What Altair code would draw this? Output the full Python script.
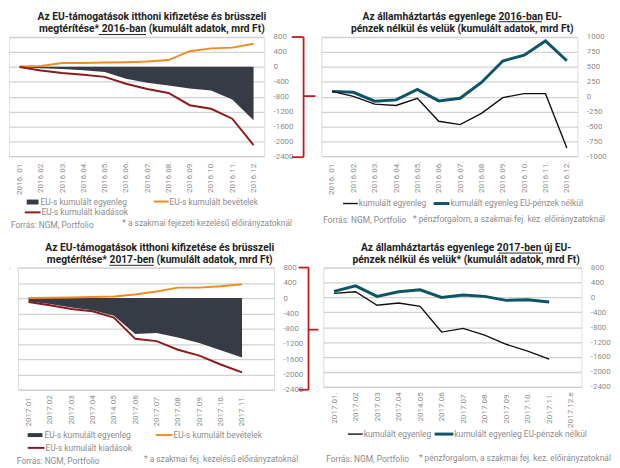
import altair as alt
import pandas as pd

FONT = "Roboto"
GRAY = "#8c8c8c"
GRID = "#d2d2d2"
C_AREA = "#363b46"
C_ORANGE = "#f08a24"
C_RED = "#8e1b1b"
C_TEAL = "#0d5566"
C_BLACK = "#111111"
C_BRACE = "#c4161c"
C_TITLE = "#222222"

# ---------------- data ----------------
months_2016 = ["2016. 01.", "2016.02.", "2016.03.", "2016.04.", "2016.05.", "2016.06.",
               "2016.07.", "2016.08.", "2016.09.", "2016.10.", "2016.11.", "2016.12."]
eu16_balance = [-15, -40, -57, -93, -137, -323, -429, -500, -580, -633, -880, -1437]
eu16_income = [10, 20, 100, 105, 115, 125, 145, 180, 420, 495, 515, 620]
eu16_spend = [-5, -100, -165, -215, -270, -455, -597, -703, -1030, -1127, -1393, -2100]

gov16_balance = [88, 5, -127, -149, -28, -414, -470, -282, -17, 50, 50, -862]
gov16_no_eu = [88, 72, -77, -55, 122, -72, -28, 238, 597, 696, 934, 602]

months_2017 = ["2017.01.", "2017.02", "2017.03", "2017.04", "2014.05", "2017.06",
               "2017.07.", "2017.08.", "2017.09.", "2017.10.", "2017.11."]
months_2017_axis3 = months_2017 + [" "]
months_2017_axis4 = months_2017 + ["2017.12.e"]
eu17_balance = [-86, -155, -249, -318, -465, -938, -912, -1032, -1178, -1368, -1557]
eu17_income = [5, 10, 15, 30, 40, 95, 172, 275, 275, 310, 361]
eu17_spend = [-103, -189, -284, -344, -508, -1067, -1127, -1351, -1505, -1738, -1944]

gov17_balance = [106, 151, -213, -151, -239, -931, -833, -1011, -1259, -1445, -1658]
gov17_no_eu = [160, 310, 27, 151, 204, 0, 62, 27, -80, -62, -124]

ticks_eu = [800, 400, 0, -400, -800, -1200, -1600, -2000, -2400]
ticks_gov16 = [1000, 750, 500, 250, 0, -250, -500, -750, -1000]

ONE = alt.Data(values=[{"a": 1}])


def frame(months, series):
    rows = []
    for name, vals in series.items():
        for i, (m, v) in enumerate(zip(months, vals)):
            rows.append({"m": m, "i": i, "s": name, "v": v})
    return pd.DataFrame(rows)


def xenc(domain):
    return alt.X("m:N", sort=domain, scale=alt.Scale(type="point", domain=domain, padding=0.5),
                 axis=alt.Axis(title=None, labelAngle=-90, ticks=False, domain=False, grid=False,
                               labelColor=GRAY, labelFontSize=8.2, labelPadding=5, labelFont=FONT))


def yenc(dom, ticks):
    return alt.Y("v:Q", scale=alt.Scale(domain=dom, nice=False, zero=False),
                 axis=alt.Axis(title=None, orient="right", values=ticks, ticks=False, domain=False,
                               grid=True, gridColor=GRID, gridWidth=1.3, labelColor=GRAY,
                               labelFontSize=8, labelPadding=9, labelFont=FONT,
                               labelExpr="datum.value"))


def txt(s, x, y, size=8.5, color=GRAY, weight="normal", align="left", baseline="middle"):
    return alt.Chart(ONE).mark_text(align=align, baseline=baseline, fontSize=size, color=color,
                                    font=FONT, fontWeight=weight).encode(
        x=alt.value(x), y=alt.value(y), text=alt.value(s))


def ttl(s, x, y):
    return txt(s, x, y, size=10.4, color=C_TITLE, weight="bold", align="center", baseline="alphabetic")


def seg(x1, x2, y1, y2, color, w):
    return alt.Chart(ONE).mark_rule(color=color, strokeWidth=w).encode(
        x=alt.value(x1), x2=alt.value(x2), y=alt.value(y1), y2=alt.value(y2))


def box(x1, x2, y1, y2, color):
    return alt.Chart(ONE).mark_rect(color=color).encode(
        x=alt.value(x1), x2=alt.value(x2), y=alt.value(y1), y2=alt.value(y2))


def eu_panel(months, domain, bal, inc, spend, w, h, deco):
    area_df = frame(months, {"bal": bal})
    line_df = frame(months, {"Bevételek": inc, "Kiadások": spend})
    area = alt.Chart(area_df).mark_area(color=C_AREA, opacity=1).encode(
        x=xenc(domain), y=yenc([-2400, 800], ticks_eu))
    lns = alt.Chart(line_df).mark_line(strokeWidth=2).encode(
        x=xenc(domain), y=yenc([-2400, 800], ticks_eu),
        color=alt.Color("s:N", scale=alt.Scale(domain=["Bevételek", "Kiadások"], range=[C_ORANGE, C_RED]),
                        legend=None),
        order="i:Q")
    return alt.layer(area, lns, *deco).properties(width=w, height=h)


def gov_panel(months, domain, bal, noeu, ydom, ticks, w, h, deco):
    df = frame(months, {"egy": bal, "noeu": noeu})
    base = alt.Chart(df).encode(x=xenc(domain), y=yenc(ydom, ticks), order="i:Q")
    l1 = base.transform_filter(alt.datum.s == "egy").mark_line(color=C_BLACK, strokeWidth=1.4)
    l2 = base.transform_filter(alt.datum.s == "noeu").mark_line(color=C_TEAL, strokeWidth=3)
    return alt.layer(l2, l1, *deco).properties(width=w, height=h)


# ---------------- panels ----------------
p1 = eu_panel(
    months_2016, months_2016, eu16_balance, eu16_income, eu16_spend, 259, 121,
    [ttl("Az EU-támogatások itthoni kifizetése és brüsszeli", 145, -17.5),
     ttl("megtérítése* 2016-ban (kumulált adatok, mrd Ft)", 145, -5),
     seg(91, 139, -2.5, -2.5, C_TITLE, 1),
     box(18, 30, 165, 170, C_AREA), txt("EU-s kumulált egyenleg", 32, 167),
     seg(147, 162, 167, 167, C_ORANGE, 2), txt("EU-s kumulált bevételek", 163, 167),
     seg(16, 32, 178, 178, C_RED, 2), txt("EU-s kumulált kiadások", 33, 178),
     txt("Forrás: NGM, Portfolio", 2, 191),
     txt("* a szakmai fejezeti kezelésű előirányzatoknál", 115, 189),
     seg(299, 299, 0, 122, C_BRACE, 1.8), seg(287, 299, 0, 0, C_BRACE, 1.8),
     seg(287, 299, 122, 122, C_BRACE, 1.8), seg(299, 311, 60, 60, C_BRACE, 1.8)])

p2 = gov_panel(
    months_2016, months_2016, gov16_balance, gov16_no_eu, [-1000, 1000], ticks_gov16, 260, 121,
    [ttl("Az államháztartás egyenlege 2016-ban EU-", 143, -17.5),
     ttl("pénzek nélkül és velük (kumulált adatok, mrd Ft)", 143, -5),
     seg(180, 224, -15.5, -15.5, C_TITLE, 1),
     seg(22, 37, 169, 169, C_BLACK, 1.4), txt("kumulált egyenleg", 38, 169),
     seg(114, 130, 169, 169, C_TEAL, 3), txt("kumulált egyenleg EU-pénzek nélkül", 131, 169),
     txt("Forrás: NGM, Portfolio", 2, 186),
     txt("* pénzforgalom, a szakmai fej. kez. előirányzatoknál", 93, 185)])

p3 = eu_panel(
    months_2017, months_2017_axis3, eu17_balance, eu17_income, eu17_spend, 260, 124,
    [ttl("Az EU-támogatások itthoni kifizetése és brüsszeli", 144, -16.7),
     ttl("megtérítése* 2017-ben (kumulált adatok, mrd Ft)", 144, -4.5),
     seg(93, 138, -2.3, -2.3, C_TITLE, 1),
     box(10, 25, 168, 172, C_AREA), txt("EU-s kumulált egyenleg", 27, 170),
     seg(140, 157, 170, 170, C_ORANGE, 2), txt("EU-s kumulált bevételek", 158, 170),
     seg(10, 27, 183, 183, C_RED, 2), txt("EU-s kumulált kiadások", 28, 183),
     txt("Forrás: NGM, Portfolio", -1, 196),
     txt("* a szakmai fej. kezelésű előirányzatoknál", 128, 194),
     seg(295, 295, 0, 124, C_BRACE, 1.8), seg(285, 295, 0, 0, C_BRACE, 1.8),
     seg(285, 295, 124, 124, C_BRACE, 1.8), seg(295, 305, 63, 63, C_BRACE, 1.8)])

p4 = gov_panel(
    months_2017, months_2017_axis4, gov17_balance, gov17_no_eu, [-2400, 800], ticks_eu, 262, 121,
    [ttl("Az államháztartás egyenlege 2017-ben új EU-", 145, -16.7),
     ttl("pénzek nélkül és velük* (kumulált adatok, mrd Ft)", 145, -4.5),
     seg(178, 223, -14.7, -14.7, C_TITLE, 1),
     seg(25, 40, 169, 169, C_BLACK, 1.4), txt("kumulált egyenleg", 41, 169),
     seg(113, 132, 169, 169, C_TEAL, 3), txt("kumulált egyenleg EU-pénzek nélkül", 133, 169),
     txt("Forrás: NGM, Portfolio", 3, 194),
     txt("* pénzforgalom, a szakmai fej. kez. előirányzatoknál", 97, 193)])

spacer = alt.Chart(ONE).mark_text().encode(
    x=alt.value(0), y=alt.value(0), text=alt.value("")).properties(width=1, height=1)

row1 = alt.hconcat(p1, p2, spacing=58, bounds="flush")
row2 = alt.hconcat(spacer, alt.hconcat(p3, p4, spacing=50, bounds="flush"), spacing=8, bounds="flush")

chart = alt.vconcat(row1, row2, spacing=12).properties(
    padding=0, background="white"
).configure_view(stroke=None).configure(font=FONT)

chart.save("out.html", embed_options={"renderer": "svg", "actions": False})
